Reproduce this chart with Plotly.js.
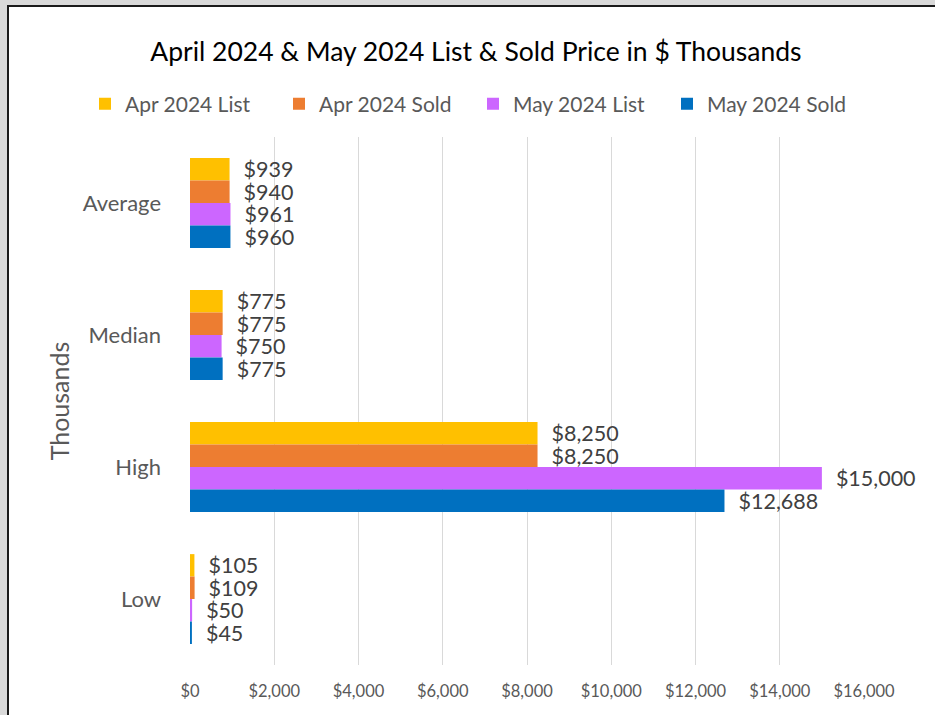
<!DOCTYPE html>
<html>
<head>
<meta charset="utf-8">
<script src="https://cdn.plot.ly/plotly-3.0.1.min.js"></script>
<style>
  html, body { margin: 0; padding: 0; background: #d9d9d9; width: 935px; height: 715px; overflow: hidden; }
  #frame { position: absolute; left: 7px; top: 5px; width: 1000px; height: 800px; background: #ffffff; border-left: 2px solid #1a1a1a; border-top: 2px solid #1a1a1a; }
  #chart { position: absolute; left: 0; top: 0; width: 935px; height: 715px; }
</style>
</head>
<body>
<div id="frame"></div>
<div id="chart"></div>
<script>
const categories = ["Average", "Median", "High", "Low"];
const seriesNames = ["Apr 2024 List", "Apr 2024 Sold", "May 2024 List", "May 2024 Sold"];
const aprList = [939, 775, 8250, 105];
const aprSold = [940, 775, 8250, 109];
const mayList = [961, 750, 15000, 50];
const maySold = [960, 775, 12688, 45];
const xTicks = [0, 2000, 4000, 6000, 8000, 10000, 12000, 14000, 16000];
const xTickText = xTicks.map(v => "$" + v.toLocaleString("en-US"));
const colors = ["#ffc000", "#ed7d31", "#cc66ff", "#0070c0"];

const FONT = "Lato, 'Open Sans', sans-serif";
const NB = "\u00A0\u00A0";
const allSeries = [aprList, aprSold, mayList, maySold];
const traces = allSeries.map((vals, i) => ({
  type: "bar",
  orientation: "h",
  name: seriesNames[i],
  y: categories,
  x: vals,
  marker: { color: colors[i] },
  texttemplate: NB + "$%{x:,.0f}",
  textposition: "outside",
  constraintext: "none",
  cliponaxis: false,
  textfont: { family: FONT, size: 21.5, color: "#404040" },
  hoverinfo: "none"
}));

const PL = 190, PR = 864, PT = 137, PB = 665;
const layout = {
  width: 935,
  height: 715,
  paper_bgcolor: "rgba(0,0,0,0)",
  plot_bgcolor: "rgba(0,0,0,0)",
  margin: { l: PL, r: 935 - PR, t: PT, b: 715 - PB },
  barmode: "group",
  bargap: 0.32,
  bargroupgap: 0,
  font: { family: FONT, color: "#595959" },
  title: {
    text: "April 2024 & May 2024 List & Sold Price in $ Thousands",
    font: { family: FONT, size: 26.5, color: "#000000" },
    x: 0.509, xanchor: "center", xref: "container",
    y: 1 - 52 / 715, yanchor: "middle", yref: "container"
  },
  legend: {
    orientation: "h",
    xref: "paper", yref: "paper",
    x: (85 - PL) / (PR - PL), xanchor: "left",
    y: (PB - 104) / (PB - PT), yanchor: "middle",
    font: { family: FONT, size: 21, color: "#595959" },
    traceorder: "normal",
    itemwidth: 30,
    entrywidth: 149,
    itemclick: false
  },
  xaxis: {
    range: [0, 16000],
    tickvals: xTicks,
    ticktext: xTickText,
    showgrid: true,
    gridcolor: "#d9d9d9",
    gridwidth: 1,
    zeroline: false,
    showline: false,
    ticks: "",
    tickfont: { family: FONT, size: 16.5, color: "#595959" },
    ticklabelstandoff: 14
  },
  yaxis: {
    type: "category",
    categoryorder: "array",
    categoryarray: categories,
    autorange: "reversed",
    showgrid: false,
    zeroline: false,
    showline: false,
    ticks: "",
    ticklabelstandoff: 28,
    tickfont: { family: FONT, size: 22, color: "#595959" },
    title: { text: "Thousands", font: { family: FONT, size: 25, color: "#595959" }, standoff: 5 }
  },
  showlegend: true
};

Plotly.newPlot("chart", traces, layout, { displayModeBar: false, staticPlot: true });
</script>
</body>
</html>
